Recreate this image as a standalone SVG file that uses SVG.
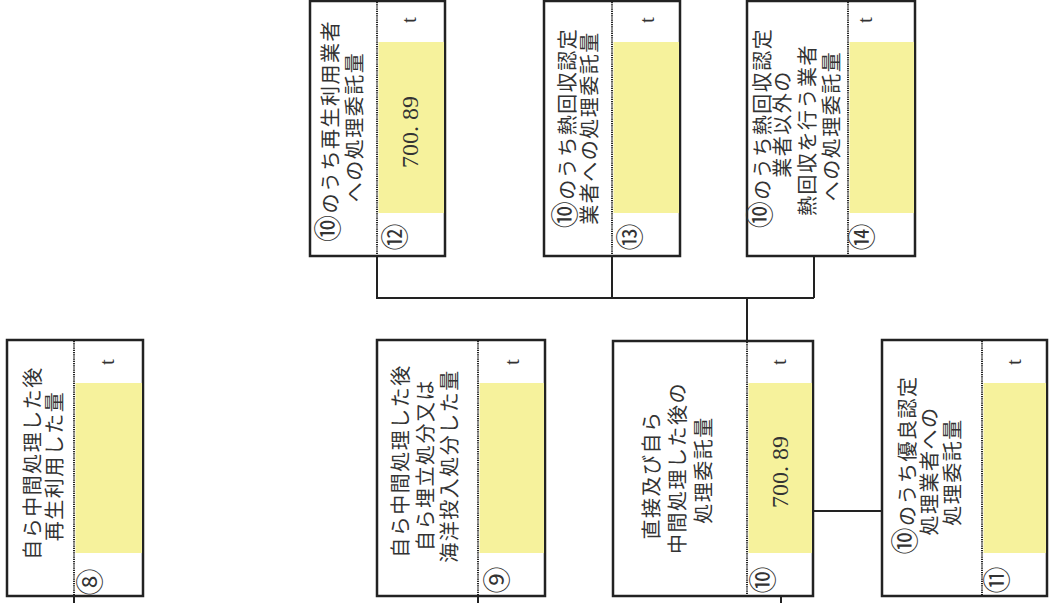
<svg xmlns="http://www.w3.org/2000/svg" width="1052" height="603" viewBox="0 0 1052 603">
<style>
.box{fill:#fff;stroke:#222;stroke-width:2.5}
.val{fill:#f6f29c;stroke:none}
.div{stroke:#222;stroke-width:2;stroke-dasharray:1.2 1}
.lbl{font-family:"Noto Sans CJK JP","Noto Sans CJK SC",sans-serif;font-size:20px;fill:#333;text-anchor:middle;letter-spacing:1.5px}
.ci{font-size:27px}
.num{font-family:"Liberation Serif",serif;font-size:24px;fill:#333;text-anchor:middle}
.unit{font-family:"Liberation Serif",serif;font-size:21px;fill:#333;text-anchor:middle}
.cn{font-family:"Noto Sans CJK JP",sans-serif;font-size:27px;fill:#333;text-anchor:middle}
.con{fill:none;stroke:#222;stroke-width:2}
</style>
<rect width="1052" height="603" fill="#fff"/>
<g id="connectors">
<path class="con" d="M377,256V298H814M612,256V298M814,256V298M747,298V341"/>
<path class="con" d="M813,511H882"/>
<path class="con" d="M74,596V603M478,596V603M781,596V603"/>
</g>
<g id="node8">
<rect class="box" x="7" y="340" width="136" height="256"/>
<rect class="val" x="75.5" y="383" width="66.5" height="170"/>
<line class="div" x1="74" y1="341" x2="74" y2="595"/>
<text class="lbl" transform="translate(40,463) rotate(-90)">自ら中間処理した後</text>
<text class="lbl" transform="translate(62,466) rotate(-90)">再生利用した&#x91CF;</text>
<text class="unit" transform="translate(114,362) rotate(-90)">t</text>
<text class="cn" transform="translate(100,582) rotate(-90)">⑧</text>
</g>
<g id="node9">
<rect class="box" x="377" y="340" width="168" height="256"/>
<rect class="val" x="479.5" y="383" width="64.5" height="170"/>
<line class="div" x1="478" y1="341" x2="478" y2="595"/>
<text class="lbl" transform="translate(408,461) rotate(-90)">自ら中間処理した後</text>
<text class="lbl" transform="translate(433,465) rotate(-90)">自ら埋立処分又は</text>
<text class="lbl" transform="translate(457,466) rotate(-90)">海洋投入処分した&#x91CF;</text>
<text class="unit" transform="translate(519,362) rotate(-90)">t</text>
<text class="cn" transform="translate(507,580) rotate(-90)">⑨</text>
</g>
<g id="node10">
<rect class="box" x="613" y="341" width="200" height="255"/>
<rect class="val" x="748.5" y="383" width="63.5" height="170"/>
<line class="div" x1="747" y1="342" x2="747" y2="595"/>
<text class="lbl" transform="translate(659,475) rotate(-90)">直接及び自ら</text>
<text class="lbl" transform="translate(685,468) rotate(-90)">中間処理した後の</text>
<text class="lbl" transform="translate(711,470) rotate(-90)">処理委託&#x91CF;</text>
<text class="num" transform="translate(788,472) rotate(-90)">700. 89</text>
<text class="unit" transform="translate(786,362) rotate(-90)">t</text>
<text class="cn" transform="translate(773,580) rotate(-90)">⑩</text>
</g>
<g id="node11">
<rect class="box" x="882" y="340" width="165" height="256"/>
<rect class="val" x="983.5" y="383" width="62.5" height="170"/>
<line class="div" x1="982" y1="341" x2="982" y2="595"/>
<text class="lbl" transform="translate(915,465) rotate(-90)"><tspan class="ci">⑩</tspan>のうち優良認定</text>
<text class="lbl" transform="translate(937,471) rotate(-90)">処理業者への</text>
<text class="lbl" transform="translate(960,472) rotate(-90)">処理委託&#x91CF;</text>
<text class="unit" transform="translate(1021,362) rotate(-90)">t</text>
<text class="cn" transform="translate(1007,580) rotate(-90)">⑪</text>
</g>
<g id="node12">
<rect class="box" x="310" y="1" width="135" height="255"/>
<rect class="val" x="378.5" y="42" width="65.5" height="171"/>
<line class="div" x1="377" y1="2" x2="377" y2="255"/>
<text class="lbl" transform="translate(338,131) rotate(-90)"><tspan class="ci">⑩</tspan>のうち再生利用業者</text>
<text class="lbl" transform="translate(362,127) rotate(-90)">への処理委託&#x91CF;</text>
<text class="num" transform="translate(418,132) rotate(-90)">700. 89</text>
<text class="unit" transform="translate(416,20) rotate(-90)">t</text>
<text class="cn" transform="translate(405,237) rotate(-90)">⑫</text>
</g>
<g id="node13">
<rect class="box" x="544" y="1" width="136" height="255"/>
<rect class="val" x="613.5" y="42" width="65.5" height="171"/>
<line class="div" x1="612" y1="2" x2="612" y2="255"/>
<text class="lbl" transform="translate(575,128) rotate(-90)"><tspan class="ci">⑩</tspan>のうち熱回収認定</text>
<text class="lbl" transform="translate(597,128) rotate(-90)">業者への処理委託&#x91CF;</text>
<text class="unit" transform="translate(654,20) rotate(-90)">t</text>
<text class="cn" transform="translate(640,237) rotate(-90)">⑬</text>
</g>
<g id="node14">
<rect class="box" x="747" y="1" width="168" height="255"/>
<rect class="val" x="849.5" y="42" width="64.5" height="171"/>
<line class="div" x1="848" y1="2" x2="848" y2="255"/>
<text class="lbl" transform="translate(770,128) rotate(-90)"><tspan class="ci">⑩</tspan>のうち熱回収認定</text>
<text class="lbl" transform="translate(790,124) rotate(-90)">業者以外の</text>
<text class="lbl" transform="translate(815,130) rotate(-90)">熱回収を行う業者</text>
<text class="lbl" transform="translate(839,126) rotate(-90)">への処理委託&#x91CF;</text>
<text class="unit" transform="translate(872,20) rotate(-90)">t</text>
<text class="cn" transform="translate(872,237) rotate(-90)">⑭</text>
</g>
</svg>
